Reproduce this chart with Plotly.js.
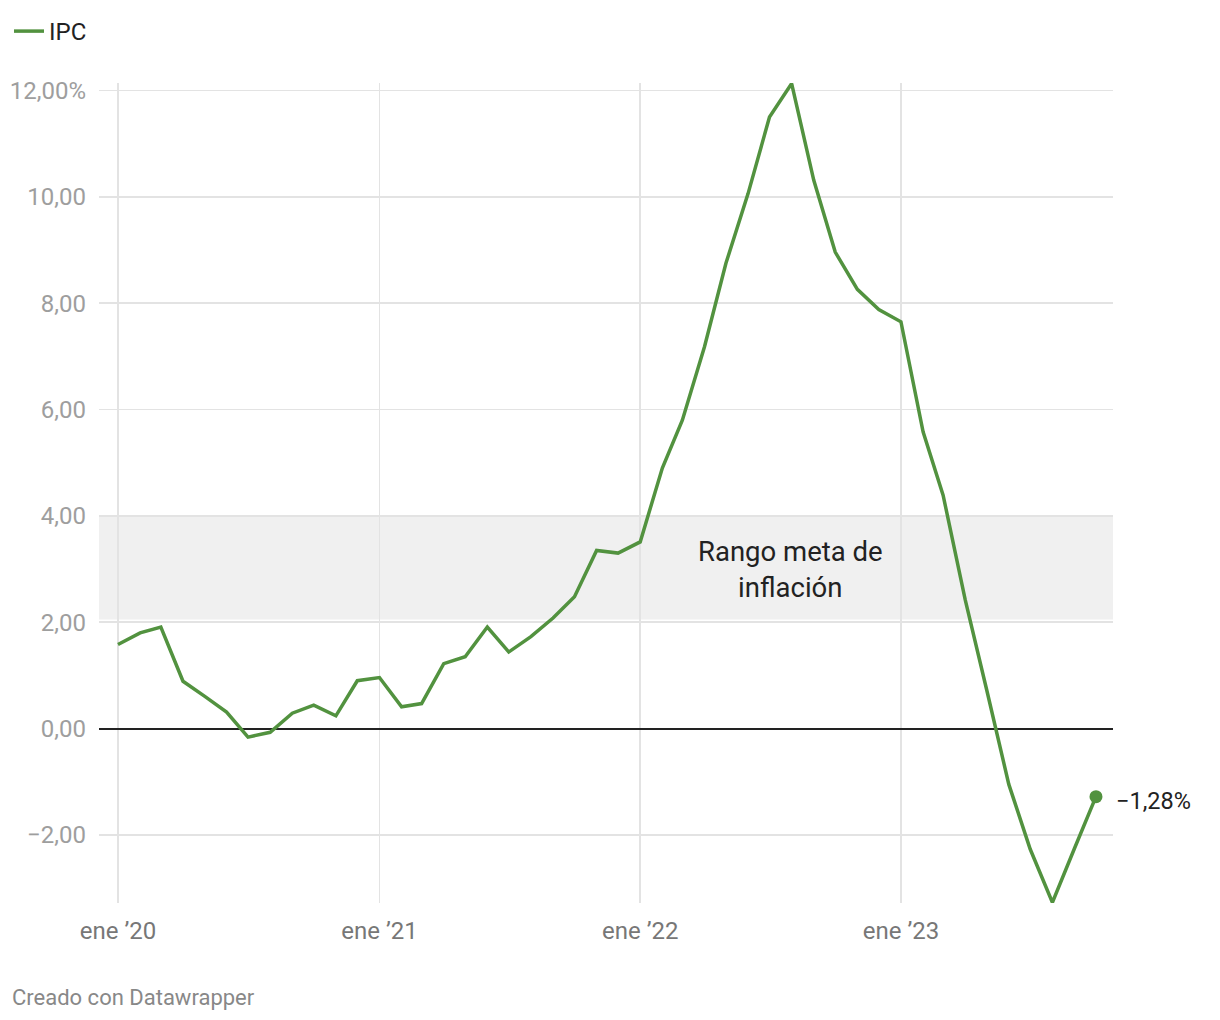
<!DOCTYPE html>
<html>
<head>
<meta charset="utf-8">
<script src="https://cdn.plot.ly/plotly-3.0.1.min.js"></script>
<style>
  html, body { margin: 0; padding: 0; background: #ffffff; }
  #chart { width: 1220px; height: 1020px; }
</style>
</head>
<body>
<div id="chart"></div>
<script>
// ---- Data ----
const months = [
  "2020-01-01","2020-02-01","2020-03-01","2020-04-01","2020-05-01","2020-06-01",
  "2020-07-01","2020-08-01","2020-09-01","2020-10-01","2020-11-01","2020-12-01",
  "2021-01-01","2021-02-01","2021-03-01","2021-04-01","2021-05-01","2021-06-01",
  "2021-07-01","2021-08-01","2021-09-01","2021-10-01","2021-11-01","2021-12-01",
  "2022-01-01","2022-02-01","2022-03-01","2022-04-01","2022-05-01","2022-06-01",
  "2022-07-01","2022-08-01","2022-09-01","2022-10-01","2022-11-01","2022-12-01",
  "2023-01-01","2023-02-01","2023-03-01","2023-04-01","2023-05-01","2023-06-01",
  "2023-07-01","2023-08-01","2023-09-01","2023-10-01"
];
const ipc = [
  1.58, 1.80, 1.91, 0.89, 0.61, 0.31,
  -0.16, -0.07, 0.29, 0.44, 0.24, 0.90,
  0.96, 0.41, 0.47, 1.22, 1.35, 1.91,
  1.44, 1.73, 2.08, 2.48, 3.35, 3.30,
  3.51, 4.90, 5.80, 7.18, 8.75, 10.06,
  11.50, 12.13, 10.31, 8.96, 8.26, 7.88,
  7.65, 5.58, 4.39, 2.42, 0.73, -1.05,
  -2.27, -3.27, -2.25, -1.28
];
const seriesName = "IPC";
const xTickVals = ["2020-01-01","2021-01-01","2022-01-01","2023-01-01"];
const xTickText = ["ene \u201920","ene \u201921","ene \u201922","ene \u201923"];
const yTickVals = [-2, 0, 2, 4, 6, 8, 10, 12];
const yTickText = ["\u22122,00","0,00","2,00","4,00","6,00","8,00","10,00","12,00%"];
const targetBand = [2, 4];
const bandLabel = "Rango meta de<br>inflación";
const lastLabel = "\u22121,28%";
const footer = "Creado con Datawrapper";

const green = "#52923f";
const lastIdx = ipc.length - 1;

const traces = [
  {
    type: "scatter", mode: "lines", name: seriesName,
    x: months, y: ipc,
    line: { color: green, width: 3.5 },
    hoverinfo: "skip"
  },
  {
    type: "scatter", mode: "markers", showlegend: false,
    x: [months[lastIdx]], y: [ipc[lastIdx]],
    marker: { color: green, size: 13 },
    cliponaxis: false, hoverinfo: "skip"
  }
];

const layout = {
  width: 1220, height: 1020,
  margin: { l: 99, r: 107, t: 83, b: 117 },
  paper_bgcolor: "#ffffff", plot_bgcolor: "#ffffff",
  font: { family: "Roboto", size: 23, color: "#222222" },
  showlegend: true,
  legend: {
    orientation: "h", xref: "container", yref: "container",
    x: 9/1220, xanchor: "left", y: 1 - 9/1020, yanchor: "top",
    font: { family: "Roboto", size: 24, color: "#222222" },
    bgcolor: "rgba(0,0,0,0)", itemwidth: 30
  },
  xaxis: {
    type: "date",
    range: ["2019-12-05 10:00", "2023-10-24 20:00"],
    tickmode: "array", tickvals: xTickVals, ticktext: xTickText,
    showgrid: true, gridcolor: "#e3e3e3", gridwidth: 1.5,
    zeroline: false, showline: false, ticks: "",
    tickfont: { family: "Roboto", size: 24, color: "#777777" },
    ticklabelstandoff: 11,
    fixedrange: true
  },
  yaxis: {
    range: [-3.28, 12.14],
    tickmode: "array", tickvals: yTickVals, ticktext: yTickText,
    showgrid: true, gridcolor: "#e3e3e3", gridwidth: 1.5,
    zeroline: true, zerolinecolor: "#222222", zerolinewidth: 2,
    showline: false, ticks: "",
    tickfont: { family: "Roboto", size: 24, color: "#9e9e9e" },
    ticklabelstandoff: 12,
    fixedrange: true
  },
  shapes: [
    {
      type: "rect", xref: "paper", yref: "y",
      x0: 0, x1: 1, y0: targetBand[0] + 0.05, y1: targetBand[1],
      fillcolor: "#f0f0f0", line: { width: 0 }, layer: "below"
    }
  ],
  annotations: [
    {
      x: "2022-07-30", y: (targetBand[0] + targetBand[1]) / 2,
      xref: "x", yref: "y", text: bandLabel, showarrow: false,
      font: { family: "Roboto", size: 27.5, color: "#222222" },
      align: "center", xanchor: "center", yanchor: "middle"
    },
    {
      x: months[lastIdx], y: ipc[lastIdx], xref: "x", yref: "y",
      text: lastLabel, showarrow: false, xanchor: "left", yanchor: "middle",
      xshift: 18, yshift: -4,
      font: { family: "Roboto", size: 23.5, color: "#222222" }
    },
    {
      xref: "paper", yref: "paper", x: (10 - 99) / 1014, y: (903 - 997) / 820,
      xanchor: "left", yanchor: "middle", showarrow: false,
      text: footer,
      font: { family: "Roboto", size: 22, color: "#888888" }
    }
  ]
};

Plotly.newPlot("chart", traces, layout, { displayModeBar: false, staticPlot: true });
</script>
</body>
</html>
